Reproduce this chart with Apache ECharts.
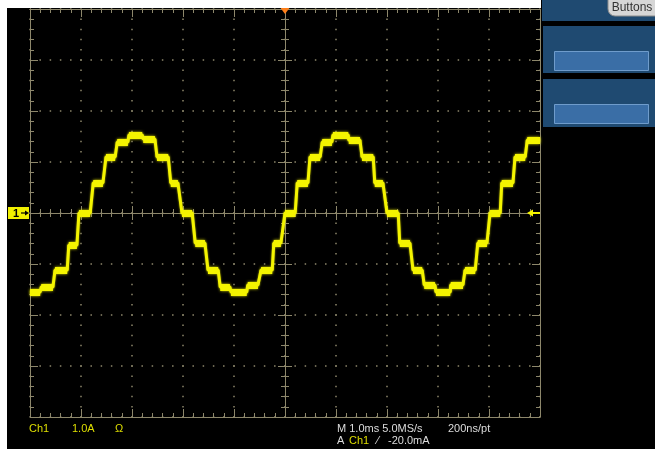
<!DOCTYPE html>
<html>
<head>
<meta charset="utf-8">
<script src="https://cdn.jsdelivr.net/npm/echarts@6/dist/echarts.min.js"></script>
<style>
html,body{margin:0;padding:0;background:#fff;}
#c{width:655px;height:453px;}
</style>
</head>
<body>
<div id="c"></div>
<script>
// Time (ms, relative to trigger) of each plateau start / end, and its current level (A)
const stepStart = [-5.00,-4.78,-4.51,-4.24,-4.04,-3.76,-3.51,-3.29,-3.06,-2.78,-2.51,-2.24,-2.02,-1.76,-1.51,-1.27,-1.06,-0.73,-0.47,-0.22,0.00,0.24,0.49,0.73,0.94,1.25,1.51,1.76,2.00,2.25,2.51,2.73,2.96,3.25,3.53,3.78,4.02,4.25,4.51,4.75];
const stepEnd   = [-4.80,-4.55,-4.27,-4.08,-3.82,-3.57,-3.33,-3.08,-2.80,-2.55,-2.29,-2.10,-1.82,-1.57,-1.31,-1.08,-0.75,-0.53,-0.25,-0.08,0.20,0.45,0.69,0.92,1.24,1.47,1.73,1.92,2.22,2.45,2.69,2.94,3.24,3.49,3.73,3.96,4.22,4.47,4.71,5.00];
const stepLevel = [-1.55,-1.45,-1.12,-0.63,0,0.59,1.10,1.39,1.53,1.45,1.10,0.59,0,-0.59,-1.12,-1.45,-1.55,-1.41,-1.12,-0.59,0,0.59,1.10,1.39,1.53,1.43,1.10,0.59,0,-0.59,-1.12,-1.41,-1.55,-1.41,-1.12,-0.59,0,0.59,1.10,1.43];

const timeRange = [-5, 5];      // 10 divisions of 1.0 ms
const currentRange = [-4, 4];   // 8 divisions of 1.0 A

const traceData = [];
const plateauData = [];
for (let i = 0; i < stepStart.length; i++) {
  traceData.push([stepStart[i], stepLevel[i]]);
  traceData.push([stepEnd[i], stepLevel[i]]);
  plateauData.push({coords: [[stepStart[i], stepLevel[i]], [stepEnd[i], stepLevel[i]]]});
}

const GC = '#8d876b';
const dotted = {color: GC, width: 1.5, type: [1.5, 8.7], dashOffset: 0.75};

function xAx(extra) {
  return Object.assign({
    type: 'value', min: timeRange[0], max: timeRange[1], interval: 1,
    axisLabel: {show: false},
    splitLine: {show: false},
    axisLine: {show: true, onZero: false, lineStyle: {color: GC, width: 1}},
    axisTick: {show: true, inside: true, length: 8, lineStyle: {color: GC, width: 1}},
    minorTick: {show: true, splitNumber: 5, length: 4, lineStyle: {color: GC, width: 1}},
    axisPointer: {show: false}
  }, extra);
}
function yAx(extra) {
  return Object.assign({
    type: 'value', min: currentRange[0], max: currentRange[1], interval: 1,
    axisLabel: {show: false},
    splitLine: {show: false},
    axisLine: {show: true, onZero: false, lineStyle: {color: GC, width: 1}},
    axisTick: {show: true, inside: true, length: 8, lineStyle: {color: GC, width: 1}},
    minorTick: {show: true, splitNumber: 5, length: 4, lineStyle: {color: GC, width: 1}},
    axisPointer: {show: false}
  }, extra);
}
const centerLine = () => ({
  show: true, onZero: true, onZeroAxisIndex: 0, lineStyle: {color: GC, width: 1}
});

const chart = echarts.init(document.getElementById('c'), null, {renderer: 'canvas'});
const font = '"Liberation Sans", Arial, sans-serif';
const TRACE = '#f4f400';
const option = {
  animation: false,
  backgroundColor: '#000',
  grid: {left: 30, top: 9, width: 510, height: 408, containLabel: false, outerBoundsMode: 'none'},
  xAxis: [
    xAx({position: 'bottom', splitLine: {show: true, lineStyle: dotted}}),
    xAx({position: 'top'}),
    xAx({position: 'bottom', axisLine: centerLine(), axisTick: {show: true, inside: true, length: 7, lineStyle: {color: GC}}}),
    xAx({position: 'bottom', axisLine: centerLine(), axisTick: {show: true, inside: false, length: 7, lineStyle: {color: GC}}})
  ],
  yAxis: [
    yAx({position: 'left', splitLine: {show: true, lineStyle: dotted}}),
    yAx({position: 'right'}),
    yAx({position: 'left', axisLine: centerLine(), axisTick: {show: true, inside: true, length: 7, lineStyle: {color: GC}}}),
    yAx({position: 'left', axisLine: centerLine(), axisTick: {show: true, inside: false, length: 7, lineStyle: {color: GC}}})
  ],
  series: [
    {
      type: 'line', xAxisIndex: 0, yAxisIndex: 0, data: traceData,
      showSymbol: false, symbol: 'none', z: 5,
      lineStyle: {color: TRACE, width: 3, shadowColor: 'rgba(244,244,0,0.8)', shadowBlur: 2}
    },
    {
      type: 'lines', coordinateSystem: 'cartesian2d', xAxisIndex: 0, yAxisIndex: 0,
      data: plateauData, z: 5,
      lineStyle: {color: TRACE, width: 7, opacity: 1, shadowColor: 'rgba(244,244,0,0.9)', shadowBlur: 3}
    }
  ],
  graphic: [
    // white margins of the screenshot
    {type: 'rect', z: 100, shape: {x: 0, y: 0, width: 541, height: 8}, style: {fill: '#fff'}},
    {type: 'rect', z: 100, shape: {x: 0, y: 0, width: 7, height: 453}, style: {fill: '#fff'}},
    {type: 'rect', z: 100, shape: {x: 0, y: 449, width: 655, height: 4}, style: {fill: '#fff'}},
    // right side panel
    {type: 'rect', z: 100, shape: {x: 542, y: 0, width: 113, height: 21}, style: {fill: '#1f4a71'}},
    {type: 'rect', z: 101, shape: {x: 608, y: -8, width: 54, height: 24, r: 7}, style: {fill: '#d6d6d6', stroke: '#8c8c8c', lineWidth: 1}},
    {type: 'text', z: 102, style: {x: 632, y: 8, text: 'Buttons', fill: '#333', font: '12px ' + font, align: 'center', verticalAlign: 'middle'}},
    {type: 'rect', z: 100, shape: {x: 543, y: 26, width: 112, height: 47}, style: {fill: '#1f4a71'}},
    {type: 'rect', z: 101, shape: {x: 554.5, y: 51.5, width: 94, height: 19}, style: {fill: '#3a6ea6', stroke: '#6f9ccb', lineWidth: 1}},
    {type: 'rect', z: 100, shape: {x: 543, y: 79, width: 112, height: 48}, style: {fill: '#1f4a71'}},
    {type: 'rect', z: 101, shape: {x: 554.5, y: 104.5, width: 94, height: 19}, style: {fill: '#3a6ea6', stroke: '#6f9ccb', lineWidth: 1}},
    // trigger position marker
    {type: 'polygon', z: 50, shape: {points: [[280.5, 8], [289.5, 8], [285, 14]]}, style: {fill: '#ff7f1a'}},
    // trigger level marker
    {type: 'polygon', z: 50, shape: {points: [[527, 213], [533, 209.5], [533, 216.5]]}, style: {fill: TRACE}},
    {type: 'line', z: 50, shape: {x1: 532, y1: 213, x2: 540, y2: 213}, style: {stroke: TRACE, lineWidth: 2}},
    // channel 1 ground marker
    {type: 'rect', z: 50, shape: {x: 8, y: 207, width: 21, height: 12}, style: {fill: '#f0f000'}},
    {type: 'text', z: 51, style: {x: 16, y: 213.5, text: '1', fill: '#000', font: 'bold 11px ' + font, align: 'center', verticalAlign: 'middle'}},
    {type: 'line', z: 51, shape: {x1: 21, y1: 213, x2: 26, y2: 213}, style: {stroke: '#000', lineWidth: 1.2}},
    {type: 'polygon', z: 51, shape: {points: [[29, 213], [25, 210.5], [25, 215.5]]}, style: {fill: '#000'}},
    // readouts
    {type: 'text', z: 50, style: {x: 29, y: 428.5, text: 'Ch1', fill: '#dede00', font: '11px ' + font, verticalAlign: 'middle'}},
    {type: 'text', z: 50, style: {x: 72, y: 428.5, text: '1.0A', fill: '#dede00', font: '11px ' + font, verticalAlign: 'middle'}},
    {type: 'text', z: 50, style: {x: 115, y: 428.5, text: 'Ω', fill: '#dede00', font: '11px ' + font, verticalAlign: 'middle'}},
    {type: 'text', z: 50, style: {x: 337, y: 428.5, text: 'M 1.0ms 5.0MS/s', fill: '#dcdcdc', font: '11px ' + font, verticalAlign: 'middle'}},
    {type: 'text', z: 50, style: {x: 448, y: 428.5, text: '200ns/pt', fill: '#dcdcdc', font: '11px ' + font, verticalAlign: 'middle'}},
    {type: 'text', z: 50, style: {x: 337, y: 440.5, text: 'A', fill: '#dcdcdc', font: '11px ' + font, verticalAlign: 'middle'}},
    {type: 'text', z: 50, style: {x: 349, y: 440.5, text: 'Ch1', fill: '#dede00', font: '11px ' + font, verticalAlign: 'middle'}},
    {type: 'text', z: 50, style: {x: 377, y: 440.5, text: '⁄', fill: '#dcdcdc', font: '11px ' + font, verticalAlign: 'middle'}},
    {type: 'text', z: 50, style: {x: 388, y: 440.5, text: '-20.0mA', fill: '#dcdcdc', font: '11px ' + font, verticalAlign: 'middle'}}
  ]
};
chart.setOption(option);
</script>
</body>
</html>
